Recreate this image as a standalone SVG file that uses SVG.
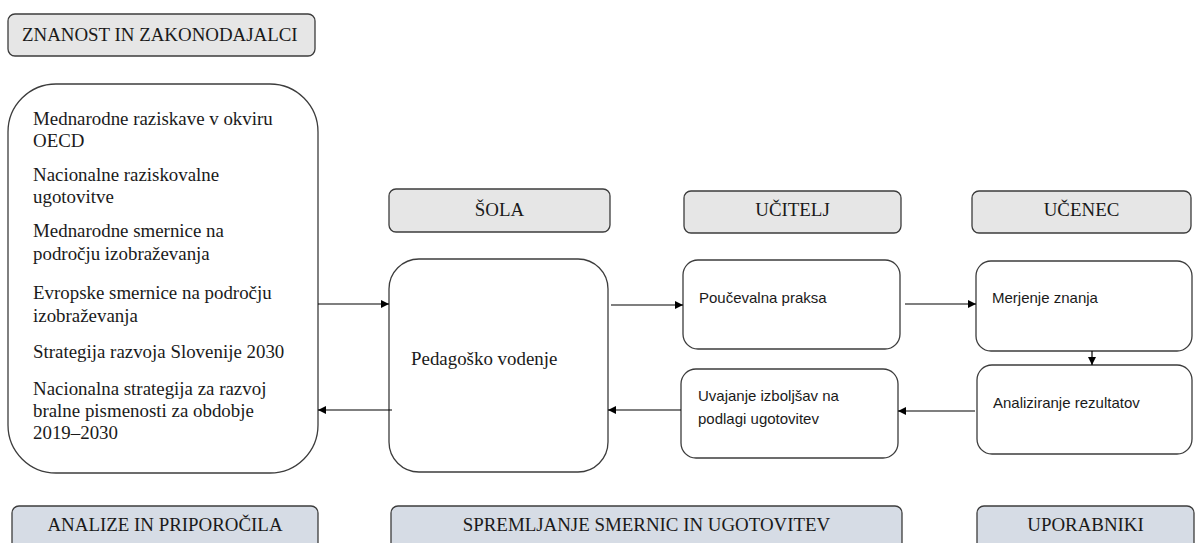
<svg xmlns="http://www.w3.org/2000/svg" width="1195" height="543" viewBox="0 0 1195 543">
<defs>
<marker id="ah" viewBox="0 0 10 10" refX="10" refY="5" markerWidth="8" markerHeight="8" markerUnits="userSpaceOnUse" orient="auto">
<path d="M0,0 L10,5 L0,10 z" fill="#000"/>
</marker>
<style>
.hdr{fill:#e6e6e6;stroke:#3c3c3c;stroke-width:1.3}
.ftr{fill:#d6dce5;stroke:#3c3c3c;stroke-width:1.3}
.box{fill:#fff;stroke:#3c3c3c;stroke-width:1.3}
.serif{font-family:"Liberation Serif","Times New Roman",serif;font-size:18.9px;fill:#1a1a1a}
.sans{font-family:"Liberation Sans",Arial,sans-serif;font-size:15px;fill:#1a1a1a}
.mid{text-anchor:middle}
.con{stroke:#000;stroke-width:1.2;fill:none;marker-end:url(#ah)}
</style>
</defs>
<rect width="1195" height="543" fill="#fff"/>

<g id="znanost">
<rect class="hdr" x="8" y="14" width="307" height="42" rx="7"/>
<text class="serif" x="22" y="41">ZNANOST IN ZAKONODAJALCI</text>
</g>

<g id="viri">
<rect class="box" x="8" y="84" width="310" height="389" rx="48"/>
<text class="serif" x="33" y="125">Mednarodne raziskave v okviru</text>
<text class="serif" x="33" y="147">OECD</text>
<text class="serif" x="33" y="181">Nacionalne raziskovalne</text>
<text class="serif" x="33" y="203">ugotovitve</text>
<text class="serif" x="33" y="237">Mednarodne smernice na</text>
<text class="serif" x="33" y="260">področju izobraževanja</text>
<text class="serif" x="33" y="299">Evropske smernice na področju</text>
<text class="serif" x="33" y="322">izobraževanja</text>
<text class="serif" x="33" y="358">Strategija razvoja Slovenije 2030</text>
<text class="serif" x="33" y="395">Nacionalna strategija za razvoj</text>
<text class="serif" x="33" y="417">bralne pismenosti za obdobje</text>
<text class="serif" x="33" y="439">2019–2030</text>
</g>

<g id="sola">
<rect class="hdr" x="389" y="189" width="221" height="43" rx="7"/>
<text class="serif mid" x="499.5" y="216">ŠOLA</text>
</g>
<g id="ucitelj">
<rect class="hdr" x="684" y="191" width="217" height="42" rx="7"/>
<text class="serif mid" x="792.5" y="216">UČITELJ</text>
</g>
<g id="ucenec">
<rect class="hdr" x="972" y="191" width="219" height="42" rx="7"/>
<text class="serif mid" x="1081.5" y="216">UČENEC</text>
</g>

<g id="pedagosko">
<rect class="box" x="389" y="259" width="219" height="213" rx="30"/>
<text class="serif" x="411" y="365">Pedagoško vodenje</text>
</g>
<g id="poucevalna">
<rect class="box" x="683" y="260" width="217" height="89" rx="15"/>
<text class="sans" x="699" y="303">Poučevalna praksa</text>
</g>
<g id="merjenje">
<rect class="box" x="976" y="261" width="216" height="90" rx="15"/>
<text class="sans" x="992" y="303">Merjenje znanja</text>
</g>
<g id="analiziranje">
<rect class="box" x="977" y="365" width="215" height="89" rx="15"/>
<text class="sans" x="993" y="408">Analiziranje rezultatov</text>
</g>
<g id="uvajanje">
<rect class="box" x="681" y="369" width="217" height="89" rx="15"/>
<text class="sans" x="698" y="401">Uvajanje izboljšav na</text>
<text class="sans" x="698" y="424">podlagi ugotovitev</text>
</g>

<g id="analize">
<rect class="ftr" x="12" y="506" width="306" height="50" rx="7"/>
<text class="serif mid" x="165" y="531">ANALIZE IN PRIPOROČILA</text>
</g>
<g id="spremljanje">
<rect class="ftr" x="391" y="506" width="511" height="50" rx="7"/>
<text class="serif mid" x="646.5" y="531">SPREMLJANJE SMERNIC IN UGOTOVITEV</text>
</g>
<g id="uporabniki">
<rect class="ftr" x="977" y="506" width="217" height="50" rx="7"/>
<text class="serif mid" x="1085.5" y="531">UPORABNIKI</text>
</g>

<g id="connectors">
<line class="con" x1="318" y1="304" x2="389" y2="304"/>
<line class="con" x1="392" y1="410" x2="318" y2="410"/>
<line class="con" x1="611" y1="305" x2="683" y2="305"/>
<line class="con" x1="905" y1="304" x2="976" y2="304"/>
<line class="con" x1="1092" y1="351" x2="1092" y2="365"/>
<line class="con" x1="975" y1="411" x2="898" y2="411"/>
<line class="con" x1="681" y1="410" x2="608" y2="410"/>
</g>
</svg>
